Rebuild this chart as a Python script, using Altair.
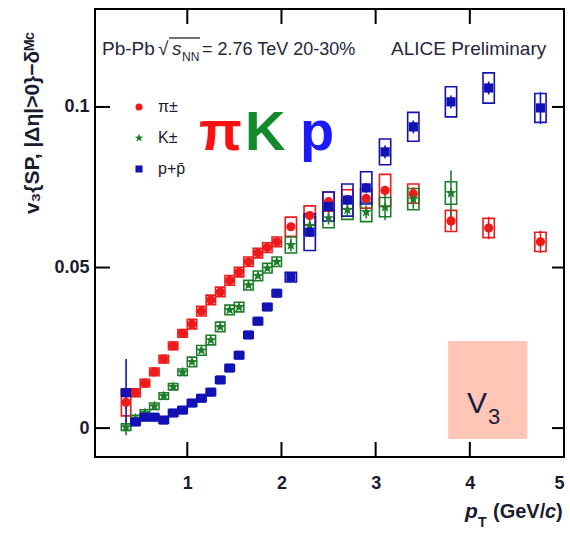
import math
import altair as alt
import pandas as pd

# ---------------- data ----------------
PT = [0.35, 0.45, 0.55, 0.65, 0.75, 0.85, 0.95, 1.05, 1.15, 1.25, 1.35, 1.45, 1.55,
      1.65, 1.75, 1.85, 1.95, 2.1, 2.3, 2.5, 2.7, 2.9, 3.1, 3.4, 3.8, 4.2, 4.75]

PION_V = [0.008, 0.011, 0.014, 0.0175, 0.0215, 0.0256, 0.0295, 0.0324, 0.0364, 0.0399,
          0.0424, 0.046, 0.0486, 0.0518, 0.0545, 0.0562, 0.058, 0.0627, 0.0662, 0.0705,
          0.0712, 0.0715, 0.074, 0.073, 0.0645, 0.0623, 0.058]
PION_STAT = [0.002] + [0.0005] * 22 + [0.002, 0.003, 0.0035, 0.0035]
PION_SYS = [0.0042] + [0.0012] * 6 + [0.0015] * 10 + [0.003] * 5 + [0.005, 0.003, 0.0033, 0.003, 0.003]

KAON_PT = PT[:25]
KAON_V = [0.0003, 0.003, 0.0047, 0.0068, 0.0100, 0.0129, 0.0174, 0.0206, 0.0242, 0.0274,
          0.0315, 0.0368, 0.0377, 0.0445, 0.0474, 0.0498, 0.0518, 0.057, 0.063, 0.0654,
          0.068, 0.0673, 0.0688, 0.0713, 0.0732]
KAON_STAT = [0.0025] + [0.0006] * 16 + [0.002] * 5 + [0.004, 0.003, 0.007]
KAON_SYS = [0.001] * 7 + [0.0015] * 10 + [0.0025, 0.0028, 0.003, 0.003, 0.003, 0.003, 0.0033, 0.0035]

PROT_V = [0.011, 0.0019, 0.0034, 0.0034, 0.0025, 0.0047, 0.0056, 0.0078, 0.0093, 0.0112,
          0.015, 0.0187, 0.0227, 0.029, 0.0333, 0.0377, 0.042, 0.047, 0.061, 0.069,
          0.071, 0.0748, 0.086, 0.0938, 0.1016, 0.1059, 0.0997]
PROT_STAT = [0.0105] + [0.0005] * 16 + [0.0015] * 5 + [0.002, 0.002, 0.002, 0.002, 0.005]
PROT_SYS = [0.001] * 17 + [0.0015, 0.0057, 0.0045, 0.005, 0.005, 0.004, 0.0045, 0.0047, 0.0047, 0.0045]

SPECIES = ["π±", "K±", "p+p̄"]
COLORS = ["#ee1a1a", "#1d7d2a", "#1212b4"]

XTICKS = [1, 2, 3, 4, 5]
YTICKS = [0, 0.05, 0.1]

V3BOX_X = [3.77, 4.61]
V3BOX_Y = [-0.0034, 0.0271]

# ---------------- build table ----------------
rows = []
for name, xs_, vs, st, sy in [
    (SPECIES[0], PT, PION_V, PION_STAT, PION_SYS),
    (SPECIES[1], KAON_PT, KAON_V, KAON_STAT, KAON_SYS),
    (SPECIES[2], PT, PROT_V, PROT_STAT, PROT_SYS),
]:
    for x, v, s1, s2 in zip(xs_, vs, st, sy):
        hw = 0.05 if x < 2 else 0.06
        rows.append(dict(species=name, pt=x, v=v,
                         stat_lo=v - s1, stat_hi=v + s1,
                         sys_lo=v - s2, sys_hi=v + s2,
                         x_lo=x - hw, x_hi=x + hw))
df = pd.DataFrame(rows)

W, H = 469, 448
FONT = "Liberation Sans"
TXT = "#1b1b2f"

xs = alt.Scale(domain=[0.02, 5.0], nice=False, zero=False)
ys = alt.Scale(domain=[-0.009, 0.1305], nice=False, zero=False)
XAX = alt.Axis(values=XTICKS, format="d", labelPadding=17, title=None)
YAX = alt.Axis(values=YTICKS, format="~g", labelPadding=6, title=None)


def X(field):
    return alt.X(field, scale=xs, axis=XAX, title=None)


def Y(field):
    return alt.Y(field, scale=ys, axis=YAX, title=None)


cscale = alt.Scale(domain=SPECIES, range=COLORS)

star_pts = []
for i in range(10):
    r = 1.25 if i % 2 == 0 else 0.52
    a = -math.pi / 2 + i * math.pi / 5
    star_pts.append(f"{r * math.cos(a):.3f},{r * math.sin(a):.3f}")
STAR = "M" + "L".join(star_pts) + "Z"
SHAPES = ["circle", STAR, "square"]

base = alt.Chart(df)

v3box = alt.Chart(pd.DataFrame({"x1": [V3BOX_X[0]], "x2": [V3BOX_X[1]],
                                "y1": [V3BOX_Y[0]], "y2": [V3BOX_Y[1]]})).mark_rect(
    color="#ffc6b5").encode(x=X("x1:Q"), x2="x2:Q", y=Y("y1:Q"), y2="y2:Q")

err_layers = []
for sp, col in zip(SPECIES, COLORS):
    sub = base.transform_filter(alt.datum.species == sp)
    err_layers.append(sub.mark_rect(fillOpacity=0, stroke=col, strokeWidth=1.6).encode(
        x=X("x_lo:Q"), x2="x_hi:Q", y=Y("sys_lo:Q"), y2="sys_hi:Q"))
for sp, col in zip(SPECIES, COLORS):
    sub = base.transform_filter(alt.datum.species == sp)
    err_layers.append(sub.mark_rule(color=col, strokeWidth=1.6).encode(
        x=X("pt:Q"), y=Y("stat_lo:Q"), y2="stat_hi:Q"))

leg = dict(title=None, orient="none", legendX=36, legendY=90, labelFont=FONT,
           labelFontSize=16, labelColor=TXT, symbolSize=50, rowPadding=15,
           padding=0, labelOffset=11, symbolStrokeWidth=0)

points = base.mark_point(filled=True, opacity=1, size=85).encode(
    x=X("pt:Q"), y=Y("v:Q"),
    color=alt.Color("species:N", scale=cscale, legend=alt.Legend(**leg)),
    shape=alt.Shape("species:N", scale=alt.Scale(domain=SPECIES, range=SHAPES),
                    legend=alt.Legend(**leg)))

xt = pd.DataFrame({"t": XTICKS})
yt = pd.DataFrame({"t": YTICKS})
tick_bottom = alt.Chart(xt).mark_rule(color="black", strokeWidth=2).encode(
    x=X("t:Q"), y=alt.value(H), y2=alt.value(H - 15))
tick_top = alt.Chart(xt).mark_rule(color="black", strokeWidth=2).encode(
    x=X("t:Q"), y=alt.value(0), y2=alt.value(15))
tick_left = alt.Chart(yt).mark_rule(color="black", strokeWidth=2).encode(
    y=Y("t:Q"), x=alt.value(0), x2=alt.value(15))
tick_right = alt.Chart(yt).mark_rule(color="black", strokeWidth=2).encode(
    y=Y("t:Q"), x=alt.value(W), x2=alt.value(W - 12))

dummy = pd.DataFrame({"a": [0]})


def txt(s, x, y, size, color=TXT, weight="normal", style="normal", align="left",
        baseline="alphabetic", angle=None):
    props = dict(text=s, align=align, baseline=baseline, fontSize=size, color=color,
                 fontWeight=weight, fontStyle=style, font=FONT)
    if angle is not None:
        props["angle"] = angle
    return alt.Chart(dummy).mark_text(**props).encode(x=alt.value(x), y=alt.value(y))


HDR = "#26263a"
texts = [
    txt("Pb-Pb", 7, 46, 19, HDR),
    txt("√", 63, 46, 19, HDR),
    txt("s", 77, 46, 19, HDR, style="italic"),
    txt("NN", 87, 52, 12, HDR),
    txt("= 2.76 TeV  20-30%", 107, 46, 18, HDR),
    txt("ALICE Preliminary", 296, 46, 19, HDR),
    txt("π", 104, 141, 56, "#ff1010", weight="bold"),
    txt("K", 150, 141, 56, "#108a2a", weight="bold"),
    txt("p", 205, 141, 56, "#1a1aff", weight="bold"),
    txt("V", 372, 404, 30, "#1a1a40"),
    txt("3", 393, 415, 22, "#1a1a40"),
    txt("p", 370, 509, 21, TXT, weight="bold", style="italic"),
    txt("T", 383, 518, 14, TXT, weight="bold"),
    txt("(GeV/", 398, 509, 20, TXT, weight="bold"),
    txt("c", 450, 509, 20, TXT, weight="bold", style="italic"),
    txt(")", 461, 509, 20, TXT, weight="bold"),
    txt("v₃{SP, |Δη|>0}−δᴹᶜ", -62, 114, 21, TXT, weight="bold", align="center",
        baseline="middle", angle=270),
]

overline = alt.Chart(dummy).mark_rule(color=HDR, strokeWidth=1.3).encode(
    x=alt.value(74), x2=alt.value(105), y=alt.value(29))

chart = alt.layer(v3box, *err_layers, points, tick_bottom, tick_top, tick_left,
                  tick_right, overline, *texts).properties(
    width=W, height=H,
    autosize=alt.AutoSizeParams(type="none"),
    padding={"left": 95, "top": 9, "right": 6, "bottom": 76},
    background="white",
).configure_view(stroke="black", strokeWidth=2).configure_axis(
    grid=False, domain=False, ticks=False, tickSize=0, labelFont=FONT,
    labelFontSize=18, labelFontWeight="bold", labelColor=TXT)

chart.save("out.html", embed_options={"renderer": "svg", "actions": False})
